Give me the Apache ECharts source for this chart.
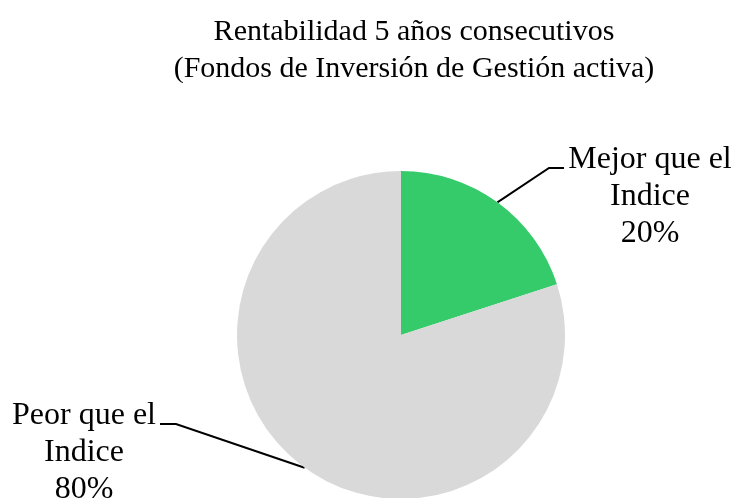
<!DOCTYPE html>
<html>
<head>
<meta charset="utf-8">
<script src="https://cdn.jsdelivr.net/npm/echarts@6/dist/echarts.min.js"></script>
<style>
  html, body { margin: 0; padding: 0; background: #fff; }
  #chart { width: 735px; height: 498px; }
</style>
</head>
<body>
<div id="chart"></div>
<script>
var titleLines = ['Rentabilidad 5 años consecutivos', '(Fondos de Inversión de Gestión activa)'];
var categories = ['Mejor que el\nIndice', 'Peor que el\nIndice'];
var values = [20, 80];
var colors = ['#35CB6A', '#D9D9D9'];

var chart = echarts.init(document.getElementById('chart'));
var font = '"Liberation Serif", "Times New Roman", serif';

// where the labels sit (label centre, elbow, line end)
var labelSpots = [
  {x: 650, y: 197, elbow: [549, 168], end: [564, 168]},
  {x: 84, y: 453, elbow: [176, 424], end: [160, 424]}
];

var option = {
  backgroundColor: '#fff',
  animation: false,
  title: {
    text: titleLines.join('\n'),
    left: 409,
    textAlign: 'center',
    top: 9,
    textStyle: {
      fontFamily: font,
      fontWeight: 'normal',
      fontSize: 30,
      lineHeight: 37,
      color: '#000'
    }
  },
  series: [{
    type: 'pie',
    center: [401, 335],
    radius: 164,
    startAngle: 90,
    clockwise: true,
    silent: true,
    data: categories.map(function (c, i) {
      return {name: c, value: values[i], itemStyle: {color: colors[i]}};
    }),
    label: {
      show: true,
      formatter: function (p) { return p.name + '\n' + p.value + '%'; },
      fontFamily: font,
      fontSize: 32,
      lineHeight: 37,
      color: '#000',
      align: 'center'
    },
    labelLine: {
      show: true,
      length: 20,
      length2: 20,
      lineStyle: {color: '#000', width: 2}
    },
    labelLayout: function (params) {
      var s = labelSpots[params.dataIndex];
      var start = params.labelLinePoints ? params.labelLinePoints[0] : s.elbow;
      return {
        x: s.x,
        y: s.y,
        align: 'center',
        verticalAlign: 'middle',
        labelLinePoints: [start, s.elbow, s.end]
      };
    }
  }]
};
chart.setOption(option);
</script>
</body>
</html>
